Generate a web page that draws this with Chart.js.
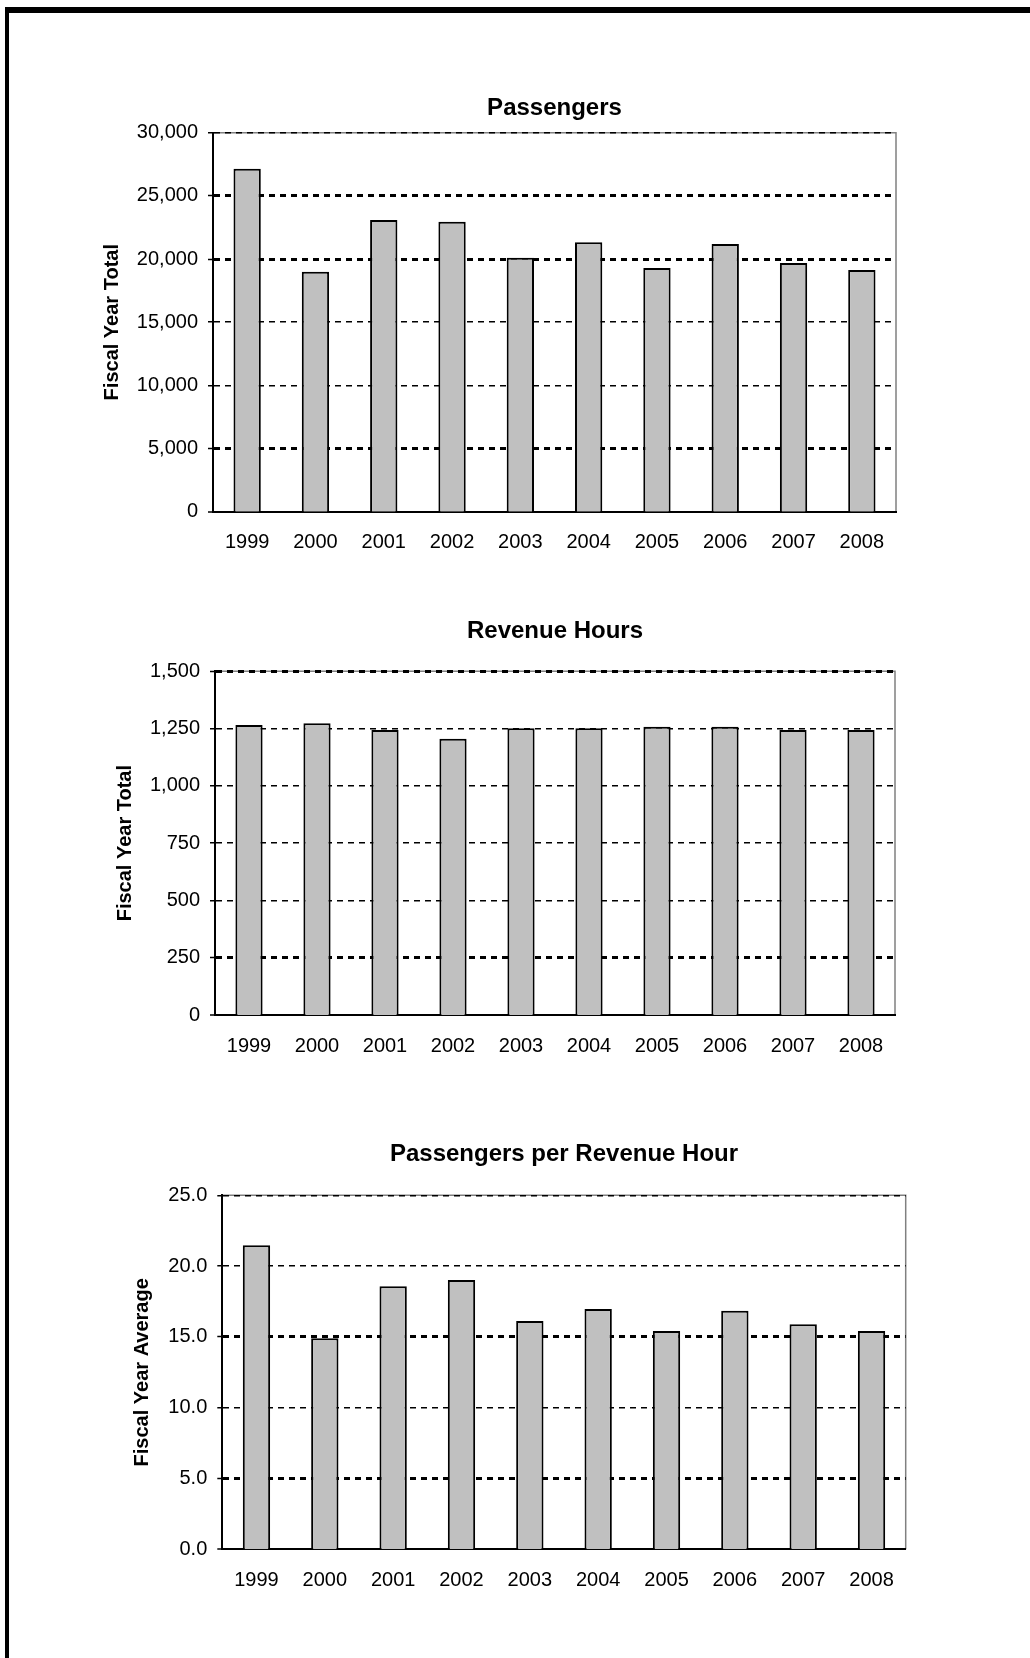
<!DOCTYPE html>
<html>
<head>
<meta charset="utf-8">
<script src="https://cdn.jsdelivr.net/npm/chart.js@4.4.1/dist/chart.umd.min.js"></script>
<style>
    html, body { margin: 0; padding: 0; background: #fff; }
    body { width: 1030px; height: 1658px; position: relative; overflow: hidden; }
    .frame {
        position: absolute; left: 5px; top: 7px; right: 0; bottom: 0;
        border-top: 6px solid #000; border-left: 4px solid #000;
    }
    canvas { position: absolute; left: 0; }
</style>
</head>
<body>
<div class="frame"></div>
<canvas id="chartPassengers" width="1030" height="490" style="top:80px"></canvas>
<canvas id="chartHours" width="1030" height="480" style="top:600px"></canvas>
<canvas id="chartPerHour" width="1030" height="490" style="top:1120px"></canvas>

<script>
// data ===================================
const years = ['1999', '2000', '2001', '2002', '2003', '2004', '2005', '2006', '2007', '2008'];
const passengers = [27150, 19000, 23090, 22960, 20100, 21330, 19290, 21190, 19690, 19130];
const revenueHours = [1266, 1273, 1244, 1206, 1251, 1251, 1258, 1258, 1244, 1244];
const passengersPerHour = [21.47, 14.9, 18.57, 19.02, 16.12, 16.97, 15.42, 16.85, 15.89, 15.42];

const FONT = "'Liberation Sans', Arial, sans-serif";

// gray frame on top/right of the plot area, drawn before grid so dashes stay on top
const plotFrame = {
    id: 'plotFrame',
    beforeDraw(chart) {
        const a = chart.chartArea;
        const ctx = chart.ctx;
        ctx.save();
        ctx.strokeStyle = '#808080';
        ctx.lineWidth = 1.5;
        ctx.beginPath();
        ctx.moveTo(a.left, a.top);
        ctx.lineTo(a.right, a.top);
        ctx.lineTo(a.right, a.bottom);
        ctx.stroke();
        ctx.restore();
    }
};

function makeChart(id, cfg) {
    const ctx = document.getElementById(id).getContext('2d');
    return new Chart(ctx, {
        type: 'bar',
        data: {
            labels: years,
            datasets: [{
                data: cfg.values,
                backgroundColor: '#c0c0c0',
                borderColor: '#000',
                borderWidth: 2,
                barPercentage: 0.4,
                categoryPercentage: 1.0
            }]
        },
        plugins: [plotFrame],
        options: {
            responsive: false,
            animation: false,
            layout: { padding: cfg.padding },
            plugins: {
                legend: { display: false },
                tooltip: { enabled: false },
                title: {
                    display: true,
                    text: cfg.title,
                    fullSize: false,
                    color: '#000',
                    font: { family: FONT, size: 24, weight: 'bold' },
                    padding: { top: 0, bottom: cfg.titleGap }
                }
            },
            scales: {
                x: {
                    grid: { display: false },
                    border: { color: '#000', width: 2 },
                    ticks: { color: '#000', padding: 11, font: { family: FONT, size: 20 } },
                    afterFit: s => { s.height = 50; }
                },
                y: {
                    min: 0,
                    max: cfg.max,
                    ticks: {
                        stepSize: cfg.step,
                        color: '#000',
                        padding: 10,
                        font: { family: FONT, size: 20 },
                        callback: cfg.format
                    },
                    grid: {
                        color: '#000',
                        lineWidth: c => (c.tick && c.tick.value === 0) ? 0 : (cfg.bold.includes(c.tick && c.tick.value) ? 3 : 1.5),
                        tickLength: 5,
                        tickColor: '#000',
                        tickWidth: 1.5
                    },
                    border: { color: '#000', width: 2, dash: [6, 5] },
                    title: {
                        display: true,
                        text: cfg.axisTitle,
                        color: '#000',
                        padding: 0,
                        font: { family: FONT, size: 20, weight: 'bold' }
                    },
                    afterFit: s => { s.width = cfg.axisWidth; }
                }
            }
        }
    });
}

const thousands = v => v.toLocaleString('en-US');

makeChart('chartPassengers', {
    values: passengers,
    title: 'Passengers',
    axisTitle: 'Fiscal Year Total',
    max: 30000, step: 5000,
    bold: [25000, 20000, 5000],
    format: thousands,
    axisWidth: 113,
    titleGap: 10.3,
    padding: { left: 100, right: 134, top: 13.6, bottom: 8.3 }
});

makeChart('chartHours', {
    values: revenueHours,
    title: 'Revenue Hours',
    axisTitle: 'Fiscal Year Total',
    max: 1500, step: 250,
    bold: [1500, 250],
    format: thousands,
    axisWidth: 102,
    titleGap: 25.2,
    padding: { left: 113, right: 135, top: 17.3, bottom: 15 }
});

makeChart('chartPerHour', {
    values: passengersPerHour,
    title: 'Passengers per Revenue Hour',
    axisTitle: 'Fiscal Year Average',
    max: 25, step: 5,
    bold: [15, 5],
    format: v => v.toFixed(1),
    axisWidth: 92,
    titleGap: 26.2,
    padding: { left: 130.3, right: 124.3, top: 20.3, bottom: 10.7 }
});
</script>
</body>
</html>
